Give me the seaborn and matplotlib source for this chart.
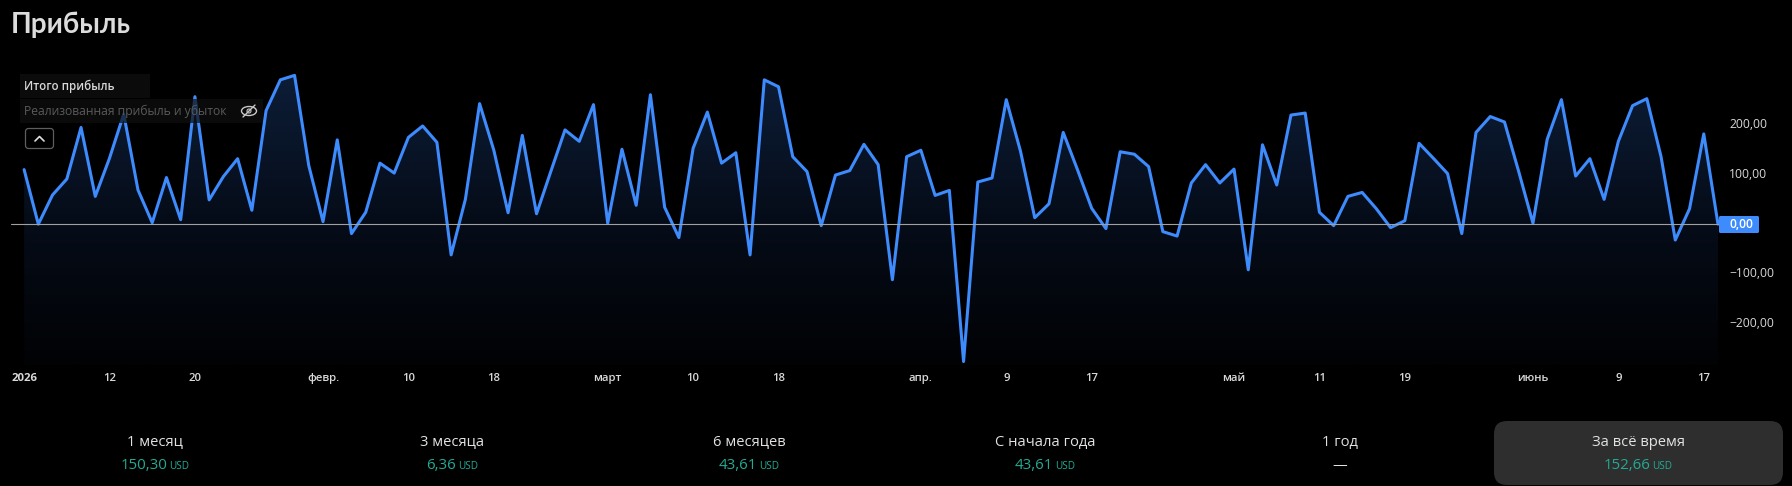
import matplotlib
matplotlib.use("Agg")
import matplotlib.pyplot as plt
from matplotlib.colors import LinearSegmentedColormap
from matplotlib.patches import FancyBboxPatch, Rectangle, Ellipse
from matplotlib.transforms import ScaledTranslation
import numpy as np
import pandas as pd
import seaborn as sns

profit = [110, 0, 59, 91, 195, 56, 133, 222, 69, 3, 94, 9, 257, 49, 96, 132, 28, 229, 291, 300,
          118, 5, 170, -19, 24, 123, 103, 175, 198, 165, -62, 50, 243, 149, 23, 179, 21, 106, 190, 167,
          241, 2, 151, 38, 261, 34, -27, 153, 226, 123, 144, -62, 291, 277, 136, 106, -3, 99, 108, 161,
          120, -112, 136, 149, 58, 68, -277, 85, 93, 251, 147, 13, 41, 185, 110, 32, -9, 146, 141, 116,
          -15, -24, 83, 120, 83, 111, -92, 160, 79, 220, 224, 24, -3, 56, 64, 31, -7, 7, 163, 133,
          102, -19, 185, 217, 206, 106, 2, 171, 251, 97, 132, 50, 167, 239, 253, 136, -32, 31, 182, 0]
tick_dates = ["2026-01-02", "2026-01-12", "2026-01-20", "2026-02-02", "2026-02-10", "2026-02-18",
              "2026-03-02", "2026-03-10", "2026-03-18", "2026-04-01", "2026-04-09", "2026-04-17",
              "2026-05-01", "2026-05-11", "2026-05-19", "2026-06-01", "2026-06-09", "2026-06-17"]
tick_labels = ["2026", "12", "20", "февр.", "10", "18", "март", "10", "18", "апр.", "9", "17",
               "май", "11", "19", "июнь", "9", "17"]
y_ticks = [-200, -100, 100, 200]
y_labels = ["−200,00", "−100,00", "100,00", "200,00"]
periods = ["1 месяц", "3 месяца", "6 месяцев", "С начала года", "1 год", "За всё время"]
period_values = ["150,30", "6,36", "43,61", "43,61", "—", "152,66"]

W, H = 1792, 486
BLUE = "#3d8bfd"
TEAL = "#22ab94"
TEXT = "#d8d8d8"

sns.set_theme(style="dark", rc={"figure.facecolor": "black", "axes.facecolor": "black", "axes.grid": False})
plt.rcParams["font.family"] = ["Open Sans", "DejaVu Sans"]

sessions = pd.bdate_range("2026-01-02", periods=len(profit))
df = pd.DataFrame({"session": np.arange(len(profit)), "profit": profit})
tick_pos = [sessions.get_loc(pd.Timestamp(d)) for d in tick_dates]

fig = plt.figure(figsize=(W / 100, H / 100), dpi=100, facecolor="black")
# chart area in pixels: x 24-1718, y 60-365
ax = fig.add_axes([24.1 / W, 1 - 365 / H, (1718 - 24.1) / W, 305 / H])
ax.set_xlim(0, len(profit) - 1)
ax.set_ylim(-284, 331)

# gradient under the line, clipped to the area down to the chart bottom
grad = LinearSegmentedColormap.from_list("g", ["#010204", "#060d1a", "#0d1f3a"])
area = ax.fill_between(df["session"], df["profit"], -284, color="none", lw=0)
img = ax.imshow(np.linspace(1, 0, 256).reshape(-1, 1), cmap=grad, aspect="auto",
                extent=[0, len(profit) - 1, -284, 331], zorder=1)
img.set_clip_path(area.get_paths()[0], transform=ax.transData)

ax.axhline(0, xmin=-13 / 1694, xmax=1, color="#a0a0a0", lw=0.8, zorder=4, clip_on=False)
sns.lineplot(data=df, x="session", y="profit", ax=ax, color=BLUE, lw=2.2, zorder=3, clip_on=False,
             errorbar=None)

ax.set_xlabel("")
ax.set_ylabel("")
ax.set_xticks(tick_pos)
ax.set_xticklabels(tick_labels)
ax.set_yticks(y_ticks)
ax.set_yticklabels(y_labels)
ax.yaxis.tick_right()
ax.tick_params(axis="y", length=0, pad=8, labelsize=8.7, labelcolor=TEXT)
ax.tick_params(axis="x", length=0, pad=6, labelsize=8.2, labelcolor=TEXT)
for lab in ax.get_xticklabels():
    lab.set_fontweight("semibold")
ax.get_xticklabels()[0].set_fontweight("bold")
# the price labels sit a little above their level
for lab in ax.get_yticklabels():
    lab.set_transform(lab.get_transform() + ScaledTranslation(0, 1.5 / 100, fig.dpi_scale_trans))
sns.despine(ax=ax, left=True, bottom=True, right=True, top=True)

# overlay in pixel coordinates for the page furniture
ov = fig.add_axes([0, 0, 1, 1], zorder=5)
ov.set_xlim(0, W)
ov.set_ylim(H, 0)
ov.axis("off")
ov.patch.set_alpha(0)

ov.text(11, 25, "Прибыль", fontsize=20, fontweight="bold", color="#dcdcdc", va="center", family="Lato")

# legend rows
ov.add_patch(Rectangle((20, 74), 130, 24, fc="#0e0e0e", ec="none", alpha=0.8))
ov.add_patch(Rectangle((20, 99), 243, 24, fc="#0e0e0e", ec="none", alpha=0.72))
ov.text(24, 86, "Итого прибыль", fontsize=8.3, fontweight="semibold", color="#d8d8d8", va="center")
ov.text(24, 111, "Реализованная прибыль и убыток", fontsize=8.75, color="#5a5a5a", va="center")
ov.add_patch(Ellipse((249, 111), 15, 9, fc="none", ec="#c8c8c8", lw=1))
ov.plot([243, 255], [117, 105], color="#c8c8c8", lw=1)
ov.add_patch(Ellipse((249, 111), 4, 4, fc="none", ec="#c8c8c8", lw=0.8))
ov.add_patch(FancyBboxPatch((25.5, 128.5), 28, 20, boxstyle="round,pad=0,rounding_size=3",
                            fc="black", ec="#5e5e5e", lw=0.9))
ov.plot([35, 39.5, 44], [141, 136.5, 141], color="#e0e0e0", lw=1.2)

# last value badge
ov.add_patch(FancyBboxPatch((1719, 216), 40, 17, boxstyle="round,pad=0,rounding_size=1.5",
                            fc=BLUE, ec="none"))
ov.text(1729, 224, "0,00", fontsize=8.7, fontweight="semibold", color="white", va="center")

# period selector
ov.add_patch(FancyBboxPatch((1494, 421), 289, 64, boxstyle="round,pad=0,rounding_size=13",
                            fc="#2e2e2e", ec="none"))
centers = [155, 452, 749, 1045, 1340, 1638]
fig.canvas.draw()
rend = fig.canvas.get_renderer()
for cx, name, val in zip(centers, periods, period_values):
    ov.text(cx, 442, name, fontsize=10.6, color="#e2e2e2", ha="center", va="center")
    if val == "—":
        ov.text(cx, 465, val, fontsize=10.5, color="#e2e2e2", ha="center", va="center")
        continue
    # value and small currency sit together, centred as one
    v = ov.text(0, 465.5, val, fontsize=10.8, color=TEAL, va="center")
    u = ov.text(0, 466.5, "USD", fontsize=7.2, color=TEAL, va="center")
    vw = v.get_window_extent(rend).width
    uw = u.get_window_extent(rend).width
    left = cx - (vw + uw + 2) / 2
    v.set_x(left)
    u.set_x(left + vw + 2)

fig.savefig("out.png", dpi=100, facecolor="black")
